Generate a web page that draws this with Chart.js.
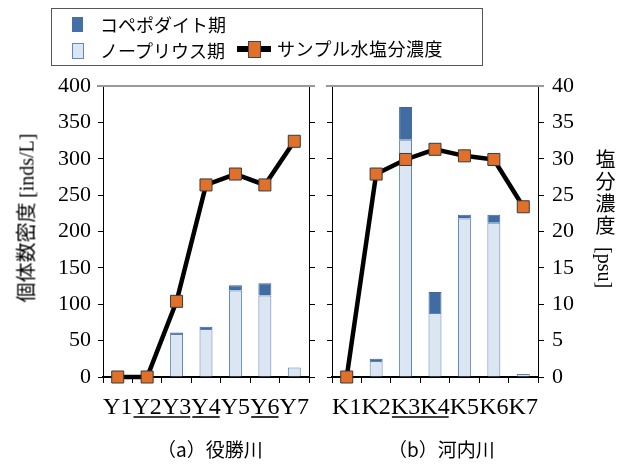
<!DOCTYPE html>
<html>
<head>
<meta charset="utf-8">
<script src="https://cdn.jsdelivr.net/npm/chart.js@4.4.1/dist/chart.umd.min.js"></script>
<style>
  body { margin: 0; background: #fff; }
  #wrap { position: relative; width: 619px; height: 466px; overflow: hidden; font-family: "Noto Sans CJK JP", sans-serif; color: #000; }
  canvas { position: absolute; top: 0; }
  .lg { position: absolute; left: 51px; top: 8px; width: 430px; height: 56px; border: 1px solid #555; }
  .sw { position: absolute; width: 11px; height: 15px; }
  .lt { position: absolute; font-size: 18px; line-height: 20px; white-space: nowrap; }
  .cap { position: absolute; font-size: 19px; white-space: nowrap; top: 435px; }
  .ytl { position: absolute; left: 25px; top: 218px; transform: translate(-50%, -50%) rotate(-90deg); font-size: 20px; white-space: nowrap; }
  .ytr { position: absolute; left: 591px; top: 149px; writing-mode: vertical-rl; text-orientation: mixed; font-size: 20px; letter-spacing: 2px; white-space: nowrap; }
  .ytr .serif { margin-top: 10px; letter-spacing: 0; }
  .serif { font-family: "Liberation Serif", serif; }
</style>
</head>
<body>
<div id="wrap">
  <canvas id="chart-a" width="320" height="466" style="left:0"></canvas>
  <canvas id="chart-b" width="299" height="466" style="left:320px"></canvas>

  <div class="lg">
    <div class="sw" style="left:20px;top:8px;background:#4470a6;"></div>
    <div class="lt" style="left:48px;top:5px;">コペポダイト期</div>
    <div class="sw" style="left:20px;top:34px;background:#dce6f2;border:1px solid #5b8ac4;width:10px;height:14px;"></div>
    <div class="lt" style="left:48px;top:31px;">ノープリウス期</div>
    <div style="position:absolute;left:185px;top:37px;width:34px;height:6px;background:#000;"></div>
    <div style="position:absolute;left:196px;top:32px;width:11px;height:15px;background:#e0702a;border:1px solid #444;"></div>
    <div class="lt" style="left:225px;top:29px;letter-spacing:0.5px;">サンプル水塩分濃度</div>
  </div>

  <div class="ytl">個体数密度 <span class="serif">[inds/L]</span></div>
  <div class="ytr">塩分濃度<span class="serif">[psu]</span></div>

  <div class="cap" style="left:157px;">（a）役勝川</div>
  <div class="cap" style="left:388px;">（b）河内川</div>
</div>

<script>
// 役勝川
const labelsA = ["Y1", "Y2", "Y3", "Y4", "Y5", "Y6", "Y7"];
const naupliusA = [0, 0, 59, 66, 119, 112, 13];
const copepoditeA = [0, 0, 2, 3, 7, 17, 0];
const salinityA = [0, 0, 10.4, 26.4, 27.9, 26.4, 32.4];
const underlineA = [[1, 2], [3], [5]];

// 河内川
const labelsB = ["K1", "K2", "K3", "K4", "K5", "K6", "K7"];
const naupliusB = [0, 22, 326, 88, 218, 212, 4];
const copepoditeB = [0, 3, 45, 29, 5, 11, 0];
const salinityB = [0, 27.9, 29.9, 31.3, 30.4, 29.9, 23.4];
const underlineB = [[2, 3]];

const densityTicks = { min: 0, max: 400, step: 50 };
const salinityTicks = { min: 0, max: 40, step: 5 };

const serif = "'Liberation Serif', 'Times New Roman', serif";

// 上枠線と下線付きラベル
const framePlugin = {
  id: "frame",
  afterDraw(chart, args, opts) {
    const { ctx, chartArea } = chart;
    ctx.save();
    ctx.strokeStyle = "#999";
    ctx.lineWidth = 2;
    ctx.beginPath();
    ctx.moveTo(chartArea.left - 6, chartArea.top);
    ctx.lineTo(chartArea.right + 6, chartArea.top);
    ctx.stroke();

    const xs = chart.scales.x;
    ctx.font = `24px ${serif}`;
    ctx.strokeStyle = "#000";
    ctx.lineWidth = 1.6;
    (opts.groups || []).forEach((g) => {
      const a = g[0];
      const b = g[g.length - 1];
      const x0 = xs.getPixelForValue(a) - ctx.measureText(opts.labels[a]).width / 2 + 1;
      const x1 = xs.getPixelForValue(b) + ctx.measureText(opts.labels[b]).width / 2 - 1;
      const y = xs.top + 40;
      ctx.beginPath();
      ctx.moveTo(x0, y);
      ctx.lineTo(x1, y);
      ctx.stroke();
    });
    ctx.restore();
  },
};

const axisGrid = {
  display: true,
  drawOnChartArea: false,
  drawTicks: true,
  tickLength: 6,
  color: "#000",
};

const makeChart = (id, labels, naup, cope, sal, groups, leftW, rightW, showLeft, showRight) => {
  const ctx = document.getElementById(id).getContext("2d");
  return new Chart(ctx, {
    type: "bar",
    data: {
      labels,
      datasets: [
        {
          type: "line",
          label: "サンプル水塩分濃度",
          data: sal,
          yAxisID: "y2",
          borderColor: "#000",
          borderWidth: 4.5,
          pointStyle: "rect",
          pointRadius: 8.5,
          pointHoverRadius: 8.5,
          pointBackgroundColor: "#e0702a",
          pointBorderColor: "#3a3a3a",
          pointBorderWidth: 1,
          tension: 0,
          clip: false,
          order: 0,
        },
        {
          label: "ノープリウス期",
          data: naup,
          yAxisID: "y",
          backgroundColor: "#dce6f2",
          borderColor: "#5580b8",
          borderWidth: 1,
          order: 1,
        },
        {
          label: "コペポダイト期",
          data: cope,
          yAxisID: "y",
          backgroundColor: "#416ca2",
          borderColor: "#3d669c",
          borderWidth: 1,
          order: 2,
        },
      ],
    },
    options: {
      responsive: false,
      animation: false,
      layout: { padding: { top: 86, left: 0, right: 0, bottom: 0 } },
      datasets: {
        bar: { categoryPercentage: 1, barPercentage: 0.44 },
      },
      plugins: {
        legend: { display: false },
        tooltip: { enabled: false },
        frame: { groups, labels },
      },
      scales: {
        x: {
          stacked: true,
          offset: true,
          grid: { ...axisGrid, offset: true },
          border: { display: true, color: "#000", width: 2 },
          ticks: {
            autoSkip: false,
            maxRotation: 0,
            color: "#000",
            padding: 10,
            font: { family: serif, size: 24 },
          },
          afterFit: (s) => { s.height = 89; },
        },
        y: {
          stacked: true,
          position: "left",
          min: densityTicks.min,
          max: densityTicks.max,
          grid: { ...axisGrid, tickLength: 5 },
          border: { display: true, color: "#000", width: 1 },
          ticks: {
            display: showLeft,
            stepSize: densityTicks.step,
            color: "#000",
            padding: 7,
            font: { family: serif, size: 22 },
          },
          afterFit: (s) => { s.width = leftW; },
        },
        y2: {
          position: "right",
          min: salinityTicks.min,
          max: salinityTicks.max,
          grid: { ...axisGrid, tickLength: 6 },
          border: { display: true, color: "#000", width: 1 },
          ticks: {
            display: showRight,
            stepSize: salinityTicks.step,
            color: "#000",
            padding: 8,
            font: { family: serif, size: 22 },
          },
          afterFit: (s) => { s.width = rightW; },
        },
      },
    },
    plugins: [framePlugin],
  });
};

makeChart("chart-a", labelsA, naupliusA, copepoditeA, salinityA, underlineA, 103, 11, true, false);
makeChart("chart-b", labelsB, naupliusB, copepoditeB, salinityB, underlineB, 12, 81, false, true);
</script>
</body>
</html>
